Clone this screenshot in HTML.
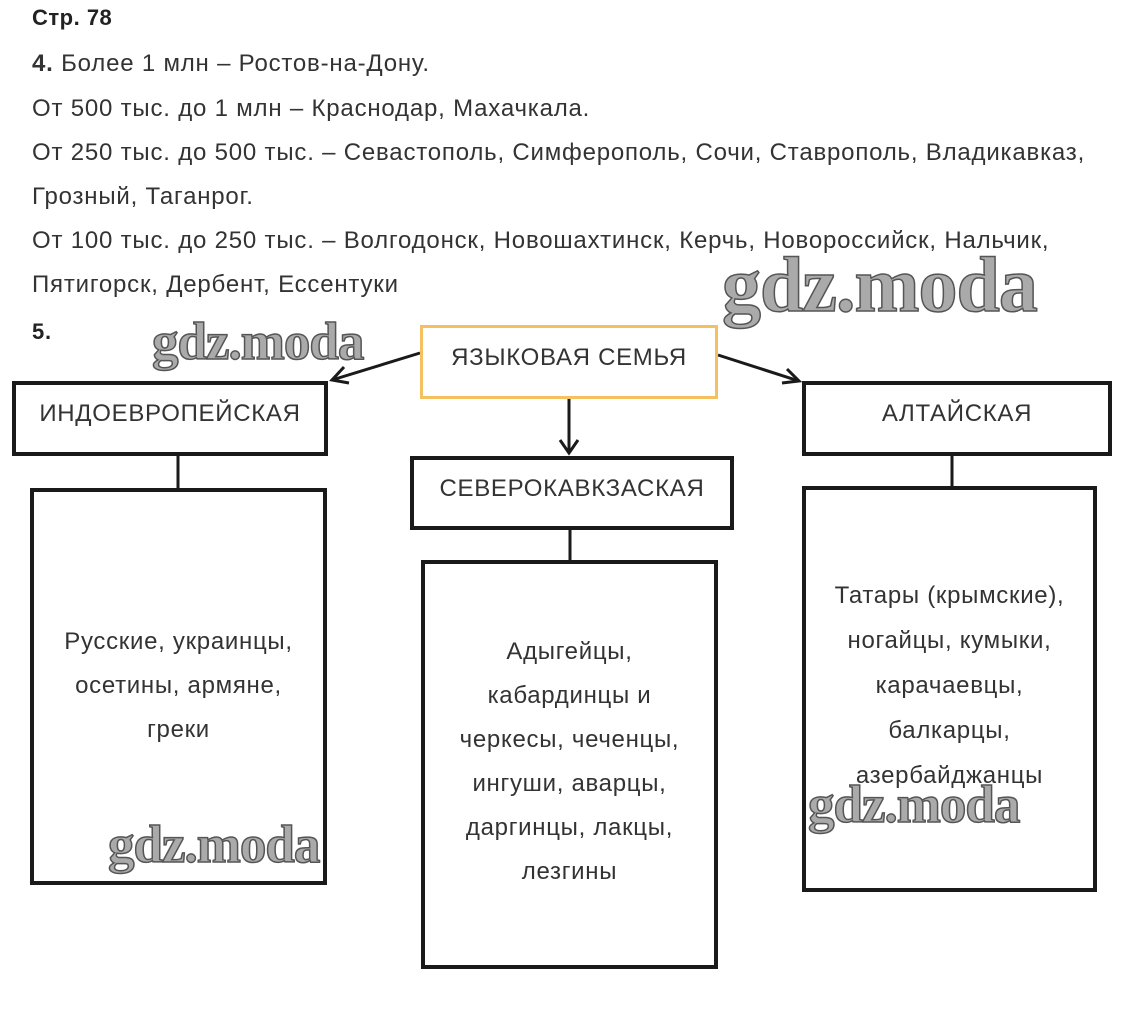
<!DOCTYPE html>
<html><head><meta charset="utf-8"><style>
body{margin:0;width:1129px;height:1035px;background:#fff;position:relative;overflow:hidden;font-family:"Liberation Sans",sans-serif;color:#333}
.t{position:absolute;left:32px;font-size:24px;letter-spacing:0.8px;white-space:nowrap}
.b{position:absolute;box-sizing:border-box;border:4px solid #1a1a1a;background:#fff;text-align:center;font-size:24px;letter-spacing:0.7px;color:#333;white-space:nowrap}
.w{position:absolute;font-family:"Liberation Serif",serif;font-weight:bold;color:#aaa;-webkit-text-stroke:1.5px #555;white-space:nowrap;letter-spacing:-1px}
</style></head><body>
<div class="t" style="top:5px;font-weight:bold;color:#222;font-size:22px;letter-spacing:0.5px">Стр. 78</div>
<div class="t" style="top:50px"><b>4.</b> Более 1 млн – Ростов-на-Дону.</div>
<div class="t" style="top:95px">От 500 тыс. до 1 млн – Краснодар, Махачкала.</div>
<div class="t" style="top:139px">От 250 тыс. до 500 тыс. – Севастополь, Симферополь, Сочи, Ставрополь, Владикавказ,</div>
<div class="t" style="top:183px">Грозный, Таганрог.</div>
<div class="t" style="top:227px">От 100 тыс. до 250 тыс. – Волгодонск, Новошахтинск, Керчь, Новороссийск, Нальчик,</div>
<div class="t" style="top:271px">Пятигорск, Дербент, Ессентуки</div>
<div class="t" style="top:319px;font-weight:bold;color:#222;font-size:22px">5.</div>

<svg style="position:absolute;left:0;top:0" width="1129" height="1035">
<g stroke="#1a1a1a" stroke-width="3" fill="none">
<line x1="420" y1="353" x2="332" y2="380"/><polyline points="344,367 332,380 349,383"/>
<line x1="718" y1="355" x2="799" y2="381"/><polyline points="782,383 799,381 787,369"/>
<line x1="569" y1="398" x2="569" y2="453"/><polyline points="560,440 569,453 578,440"/>
<line x1="178" y1="455" x2="178" y2="488"/>
<line x1="570" y1="529" x2="570" y2="560"/>
<line x1="952" y1="455" x2="952" y2="486"/>
</g></svg>

<div class="b" style="left:420px;top:325px;width:298px;height:74px;border:3px solid #f5c060;padding-top:16px">ЯЗЫКОВАЯ СЕМЬЯ</div>
<div class="b" style="left:12px;top:381px;width:316px;height:75px;padding-top:15px">ИНДОЕВРОПЕЙСКАЯ</div>
<div class="b" style="left:802px;top:381px;width:310px;height:75px;padding-top:15px">АЛТАЙСКАЯ</div>
<div class="b" style="left:410px;top:456px;width:324px;height:74px;padding-top:15px">СЕВЕРОКАВКЗАСКАЯ</div>
<div class="b" style="left:30px;top:488px;width:297px;height:397px;padding-top:128px;line-height:44px">Русские, украинцы,<br>осетины, армяне,<br>греки</div>
<div class="b" style="left:421px;top:560px;width:297px;height:409px;padding-top:66px;line-height:44px">Адыгейцы,<br>кабардинцы и<br>черкесы, чеченцы,<br>ингуши, аварцы,<br>даргинцы, лакцы,<br>лезгины</div>
<div class="b" style="left:802px;top:486px;width:295px;height:406px;padding-top:83px;line-height:45px">Татары (крымские),<br>ногайцы, кумыки,<br>карачаевцы,<br>балкарцы,<br>азербайджанцы</div>

<div class="w" style="left:152px;top:312px;font-size:53px">gdz.moda</div>
<div class="w" style="left:722px;top:240px;font-size:78px">gdz.moda</div>
<div class="w" style="left:108px;top:815px;font-size:53px">gdz.moda</div>
<div class="w" style="left:808px;top:775px;font-size:53px">gdz.moda</div>
</body></html>
